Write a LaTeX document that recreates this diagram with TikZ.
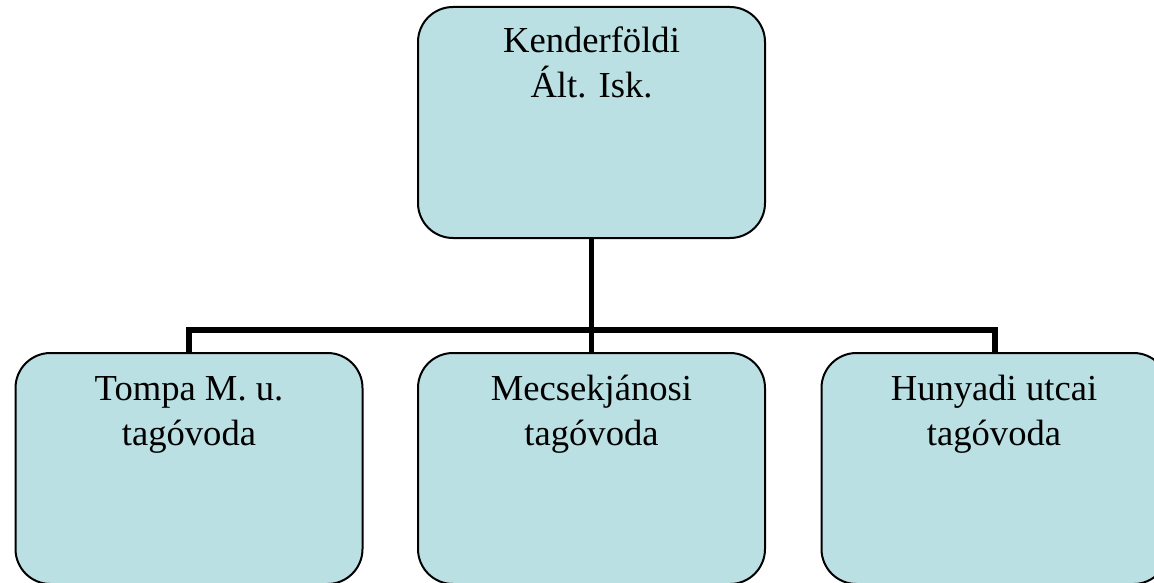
\documentclass[tikz,border=0pt]{standalone}
\usepackage{fontspec}
\setmainfont{Liberation Serif}
\definecolor{boxfill}{HTML}{BBE0E3}
\begin{document}
\begin{tikzpicture}[x=1pt,y=-1pt,
  orgbox/.style={draw=black, line width=2pt, fill=boxfill, rounded corners=35pt,
    minimum width=347pt, minimum height=231pt, inner sep=0pt, outer sep=0pt},
  boxtext/.style={anchor=base, align=center, font=\fontsize{36.6}{45}\selectfont, inner sep=0pt},
  link/.style={line width=5.5pt, line join=miter}]
\useasboundingbox (0,0) rectangle (1154,583);
\clip (0,0) rectangle (1154,583);
\coordinate (bus) at (591.5,330);
\node[orgbox] (top) at (591.5,122.5) {};
\node[orgbox] (left) at (189,468.5) {};
\node[orgbox] (mid) at (591.5,468.5) {};
\node[orgbox] (right) at (995,468.5) {};
\draw[link] (top.south) -- (bus);
\draw[link] (left.north) |- (bus) -| (right.north);
\draw[link] (bus) -- (mid.north);
\node[boxtext] (ttop) at (591.5,98) {Kenderföldi\\Ált. Isk.};
\node[boxtext] (tleft) at (189,445) {Tompa M. u.\\tagóvoda};
\node[boxtext] (tmid) at (591.5,445) {Mecsekjánosi\\tagóvoda};
\node[boxtext] (tright) at (994,445) {Hunyadi utcai\\tagóvoda};
\end{tikzpicture}
\end{document}
